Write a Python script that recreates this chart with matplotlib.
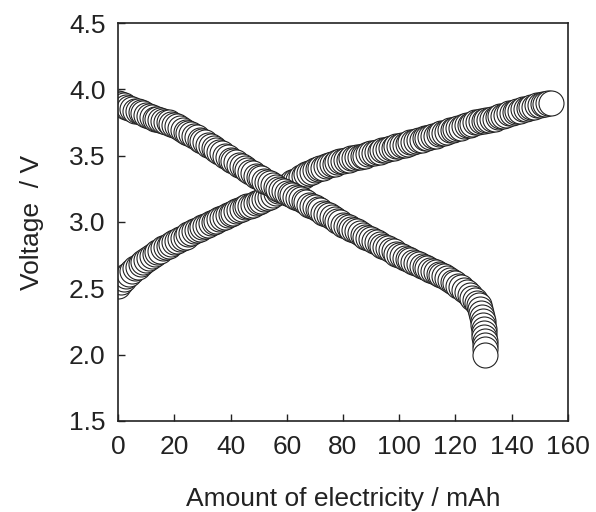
import matplotlib
matplotlib.use('Agg')
import matplotlib.pyplot as plt

plt.rcParams['font.family'] = ['Liberation Sans', 'DejaVu Sans']

# Charge curve: capacity (mAh) and voltage (V)
chargeCapacity = [0, 1, 2, 3, 4, 5, 6, 7, 8, 9, 10, 11, 12, 13, 14, 15, 16, 17, 18, 19,
                  20, 21, 22, 23, 24, 25, 26, 27, 28, 29, 30, 31, 32, 33, 34, 35, 36, 37, 38, 39,
                  40, 41, 42, 43, 44, 45, 46, 47, 48, 49, 50, 51, 52, 53, 54, 55, 56, 57, 58, 59,
                  60, 61, 62, 63, 64, 65, 66, 67, 68, 69, 70, 71, 72, 73, 74, 75, 76, 77, 78, 79,
                  80, 81, 82, 83, 84, 85, 86, 87, 88, 89, 90, 91, 92, 93, 94, 95, 96, 97, 98, 99,
                  100, 101, 102, 103, 104, 105, 106, 107, 108, 109, 110, 111, 112, 113, 114,
                  115, 116, 117, 118, 119, 120, 121, 122, 123, 124, 125, 126, 127, 128, 129,
                  130, 131, 132, 133, 134, 135, 136, 137, 138, 139, 140, 141, 142, 143, 144,
                  145, 146, 147, 148, 149, 150, 151, 152, 153, 154]
chargeVoltage = [2.52, 2.55, 2.57, 2.59, 2.61, 2.63, 2.65, 2.66, 2.68, 2.70,
                 2.71, 2.73, 2.74, 2.76, 2.77, 2.78, 2.80, 2.81, 2.82, 2.83,
                 2.85, 2.86, 2.87, 2.88, 2.89, 2.91, 2.92, 2.93, 2.94, 2.95,
                 2.96, 2.97, 2.98, 2.99, 3.00, 3.01, 3.02, 3.03, 3.04, 3.05,
                 3.06, 3.07, 3.08, 3.09, 3.10, 3.11, 3.12, 3.12, 3.13, 3.14,
                 3.15, 3.16, 3.17, 3.18, 3.19, 3.20, 3.22, 3.23, 3.24, 3.26,
                 3.27, 3.28, 3.30, 3.31, 3.32, 3.34, 3.35, 3.36, 3.37, 3.38,
                 3.39, 3.40, 3.41, 3.41, 3.42, 3.43, 3.44, 3.44, 3.45, 3.46,
                 3.46, 3.47, 3.47, 3.48, 3.48, 3.49, 3.49, 3.50, 3.50, 3.51,
                 3.52, 3.52, 3.53, 3.53, 3.54, 3.54, 3.55, 3.56, 3.56, 3.57,
                 3.57, 3.58, 3.58, 3.59, 3.60, 3.60, 3.61, 3.62, 3.62, 3.63,
                 3.63, 3.64, 3.65, 3.65, 3.66, 3.67, 3.67, 3.68, 3.69, 3.69,
                 3.70, 3.71, 3.71, 3.72, 3.73, 3.73, 3.74, 3.75, 3.75, 3.76,
                 3.76, 3.77, 3.77, 3.78, 3.78, 3.79, 3.80, 3.80, 3.81, 3.82,
                 3.82, 3.83, 3.84, 3.84, 3.85, 3.85, 3.86, 3.87, 3.87, 3.88,
                 3.88, 3.89, 3.89, 3.90, 3.90]

# Discharge curve
dischargeCapacity = [0, 1, 2, 3, 4, 5, 6, 7, 8, 9, 10, 11, 12, 13, 14, 15, 16, 17, 18, 19,
                     20, 21, 22, 23, 24, 25, 26, 27, 28, 29, 30, 31, 32, 33, 34, 35, 36, 37,
                     38, 39, 40, 41, 42, 43, 44, 45, 46, 47, 48, 49, 50, 51, 52, 53, 54, 55,
                     56, 57, 58, 59, 60, 61, 62, 63, 64, 65, 66, 67, 68, 69, 70, 71, 72, 73,
                     74, 75, 76, 77, 78, 79, 80, 81, 82, 83, 84, 85, 86, 87, 88, 89, 90, 91,
                     92, 93, 94, 95, 96, 97, 98, 99, 100, 101, 102, 103, 104, 105, 106, 107,
                     108, 109, 110, 111, 112, 113, 114, 115, 116, 117, 118, 119, 120, 121,
                     122, 123, 124, 125, 126, 127, 127.6, 128.2, 128.7, 129.1, 129.4, 129.7,
                     129.9, 130.1, 130.2, 130.3, 130.4, 130.5, 130.5, 130.5]
dischargeVoltage = [3.90, 3.89, 3.88, 3.87, 3.86, 3.85, 3.84, 3.84, 3.83, 3.82,
                    3.81, 3.80, 3.79, 3.78, 3.78, 3.77, 3.76, 3.75, 3.75, 3.74,
                    3.73, 3.72, 3.71, 3.69, 3.68, 3.67, 3.66, 3.65, 3.64, 3.62,
                    3.61, 3.60, 3.58, 3.57, 3.56, 3.54, 3.53, 3.52, 3.50, 3.49,
                    3.47, 3.46, 3.45, 3.43, 3.42, 3.41, 3.39, 3.38, 3.37, 3.35,
                    3.34, 3.33, 3.31, 3.30, 3.29, 3.28, 3.26, 3.25, 3.24, 3.23,
                    3.22, 3.21, 3.20, 3.19, 3.18, 3.17, 3.16, 3.15, 3.13, 3.12,
                    3.11, 3.10, 3.09, 3.07, 3.06, 3.05, 3.04, 3.02, 3.01, 3.00,
                    2.98, 2.97, 2.96, 2.95, 2.94, 2.93, 2.92, 2.90, 2.89, 2.88,
                    2.87, 2.86, 2.85, 2.83, 2.82, 2.81, 2.80, 2.79, 2.78, 2.76,
                    2.75, 2.74, 2.73, 2.72, 2.71, 2.70, 2.69, 2.68, 2.67, 2.66,
                    2.65, 2.64, 2.63, 2.62, 2.61, 2.60, 2.59, 2.58, 2.56, 2.55,
                    2.54, 2.52, 2.51, 2.49, 2.47, 2.45, 2.43, 2.41, 2.39, 2.37,
                    2.34, 2.31, 2.28, 2.25, 2.22, 2.19, 2.16, 2.13, 2.10, 2.07,
                    2.04, 2.00]

xTicks = [0, 20, 40, 60, 80, 100, 120, 140, 160]
yTicks = [1.5, 2.0, 2.5, 3.0, 3.5, 4.0, 4.5]

fig = plt.figure(figsize=(5.96, 5.12), dpi=100)
ax = fig.add_axes([0.198, 0.178, 0.755, 0.777])

markerStyle = dict(linestyle='none', marker='o', markersize=18,
                   markerfacecolor='white', markeredgecolor='#222222', markeredgewidth=0.8)
ax.plot(chargeCapacity, chargeVoltage, **markerStyle)
ax.plot(dischargeCapacity, dischargeVoltage, **markerStyle)

ax.set_xlim(0, 160)
ax.set_ylim(1.5, 4.5)
ax.set_xticks(xTicks)
ax.set_yticks(yTicks)
ax.set_yticklabels(['{:.1f}'.format(v) for v in yTicks])
ax.tick_params(direction='in', length=5, width=1, labelsize=19, colors='#222222')
ax.tick_params(axis='x', pad=10)
ax.tick_params(axis='y', pad=9)
for spine in ax.spines.values():
    spine.set_linewidth(1.2)
    spine.set_color('#222222')

ax.set_xlabel('Amount of electricity / mAh', fontsize=19, color='#222222', labelpad=20)
ax.set_ylabel('Voltage  / V', fontsize=19, color='#222222', labelpad=18)

fig.savefig('out.png', dpi=100)
